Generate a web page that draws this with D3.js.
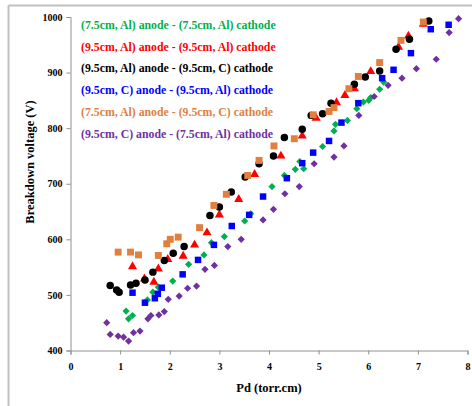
<!DOCTYPE html>
<html>
<head>
<meta charset="utf-8">
<script src="https://cdn.jsdelivr.net/npm/d3@7"></script>
<style>
  body { margin: 0; background: #fff; }
  svg { display: block; }
  text { font-family: "Liberation Serif", "Times New Roman", serif; font-weight: bold; }
</style>
</head>
<body>
<svg id="chart" width="472" height="406"></svg>
<script>
// data: [Pd (torr.cm), breakdown voltage (V)]
var greenData = [[1.12,471],[1.17,457],[1.25,463],[1.55,491],[1.66,505],[1.77,514],[2.06,525],[2.38,555],
  [2.69,572],[2.84,594],[3.10,605],[3.51,633],[3.63,646],[4.06,695],[4.31,715],[4.53,726],[4.62,740],
  [4.70,727],[5.08,767],[5.31,795],[5.34,807],[5.58,814],[5.77,835],[5.90,847],[6.01,850],[6.05,855],
  [6.23,870],[6.31,883]];
var redData = [[1.25,551],[1.49,529],[1.68,523],[1.77,547],[1.96,564],[2.27,570],[2.50,590],[2.75,612],
  [3.00,644],[3.39,672],[3.71,717],[4.24,750],[4.67,786],[4.95,818],[5.36,846],[5.53,859],[5.72,871],
  [6.05,902],[6.61,946],[6.81,966],[7.11,987]];
var blackData = [[0.80,517],[0.93,509],[0.98,505],[1.21,518],[1.32,521],[1.50,527],[1.66,541],[1.89,562],
  [2.07,575],[2.29,587],[2.81,643],[3.00,658],[3.24,685],[3.52,712],[3.80,736],[4.09,750],[4.31,783],
  [4.67,798],[4.85,823],[5.08,826],[5.25,845],[5.72,879],[5.94,892],[6.23,903],[6.56,942],[6.83,960],
  [7.22,993]];
var blueData = [[1.25,504],[1.50,486],[1.70,494],[1.76,502],[1.84,513],[2.26,537],[2.57,563],[2.89,590],
  [3.25,624],[3.60,644],[3.88,677],[4.36,710],[4.67,737],[4.89,756],[5.21,777],[5.46,810],[5.80,845],
  [6.28,890],[6.51,905],[6.86,935],[7.26,978],[7.62,986]];
var orangeData = [[0.96,577],[1.21,577],[1.37,572],[1.77,571],[1.94,592],[2.01,600],[2.17,604],[2.60,621],
  [2.89,661],[3.14,681],[3.57,715],[3.80,742],[4.10,768],[4.51,781],[4.89,824],[5.21,830],[5.31,837],
  [5.61,871],[5.80,893],[6.23,918],[6.66,958],[7.11,991]];
var purpleData = [[0.73,450],[0.80,429],[0.96,426],[1.07,424],[1.17,417],[1.27,432],[1.40,435],[1.56,457],
  [1.62,463],[1.78,464],[1.89,470],[1.97,492],[2.19,498],[2.36,512],[2.54,516],[2.71,546],[2.90,553],
  [3.17,587],[3.44,600],[3.88,635],[4.09,654],[4.32,682],[4.61,695],[4.91,736],[5.31,748],[5.51,768],
  [5.81,823],[6.12,857],[6.40,877],[6.68,890],[6.97,907],[7.37,924],[7.63,972],[7.82,997]];

var seriesNames = ["(7.5cm, Al) anode - (7.5cm, Al) cathode",
                   "(9.5cm, Al) anode - (9.5cm, Al) cathode",
                   "(9.5cm, Al) anode - (9.5cm, C) cathode",
                   "(9.5cm, C) anode - (9.5cm, Al) cathode",
                   "(7.5cm, Al) anode - (9.5cm, C) cathode",
                   "(9.5cm, C) anode - (7.5cm, Al) cathode"];
var xTicks = [0,1,2,3,4,5,6,7,8];
var yTicks = [400,500,600,700,800,900,1000];

// diamond = square turned by 45 degrees
var series = [
  {name: seriesNames[0], data: greenData,  color: "#00b050", shape: d3.symbolSquare,   size: 26, rot: 45},
  {name: seriesNames[1], data: redData,    color: "#ff0000", shape: d3.symbolTriangle, size: 36, rot: 0},
  {name: seriesNames[2], data: blackData,  color: "#000000", shape: d3.symbolCircle,   size: 44, rot: 0},
  {name: seriesNames[3], data: blueData,   color: "#0000ff", shape: d3.symbolSquare,   size: 42, rot: 0},
  {name: seriesNames[4], data: orangeData, color: "#e07f3e", shape: d3.symbolSquare,   size: 48, rot: 0},
  {name: seriesNames[5], data: purpleData, color: "#7030a0", shape: d3.symbolSquare,   size: 26, rot: 45}
];

var svg = d3.select('#chart');

// frame of the screenshot (only top and left are visible)
svg.append('line').attr('x1',8.5).attr('x2',472).attr('y1',5.5).attr('y2',5.5)
   .attr('stroke','#c0c0c0').attr('stroke-width',2);
svg.append('line').attr('x1',8.5).attr('x2',8.5).attr('y1',5.5).attr('y2',406)
   .attr('stroke','#c0c0c0').attr('stroke-width',2);

var x = d3.scaleLinear().domain([0,8]).range([70.5,467.5]);
var y = d3.scaleLinear().domain([400,1000]).range([350.5,17]);

var xAxis = svg.append('g')
  .attr('transform','translate(0,350.5)')
  .call(d3.axisBottom(x).tickValues(xTicks).tickSize(4).tickPadding(8).tickFormat(d3.format('d')));
var yAxis = svg.append('g')
  .attr('transform','translate(70.5,0)')
  .call(d3.axisLeft(y).tickValues(yTicks).tickSize(4).tickPadding(4).tickFormat(d3.format('d')));

[xAxis, yAxis].forEach(function(a){
  a.select('.domain').attr('stroke','#909090');
  a.selectAll('.tick line').attr('stroke','#909090');
  a.selectAll('.tick text').attr('fill','#000').style('font-size','10px')
    .style('font-family','"Liberation Serif", serif').style('font-weight','bold');
});

svg.append('text')
  .attr('x',269).attr('y',392)
  .attr('text-anchor','middle')
  .style('font-size','12.5px')
  .text('Pd (torr.cm)');

svg.append('text')
  .attr('transform','translate(34,162) rotate(-90)')
  .attr('text-anchor','middle')
  .style('font-size','12.5px')
  .text('Breakdown voltage (V)');

// points, legend order = drawing order
series.forEach(function(s){
  svg.append('g')
    .selectAll('path')
    .data(s.data)
    .join('path')
      .attr('transform', d => `translate(${x(d[0])},${y(d[1])}) rotate(${s.rot})`)
      .attr('d', d3.symbol().type(s.shape).size(s.size))
      .attr('fill', s.color);
});

// legend: coloured text only
svg.append('g')
  .selectAll('text')
  .data(series)
  .join('text')
    .attr('x',81)
    .attr('y',(d,i) => 29 + i*21.7)
    .attr('fill', d => d.color)
    .style('font-size','11.8px')
    .text(d => d.name);
</script>
</body>
</html>
